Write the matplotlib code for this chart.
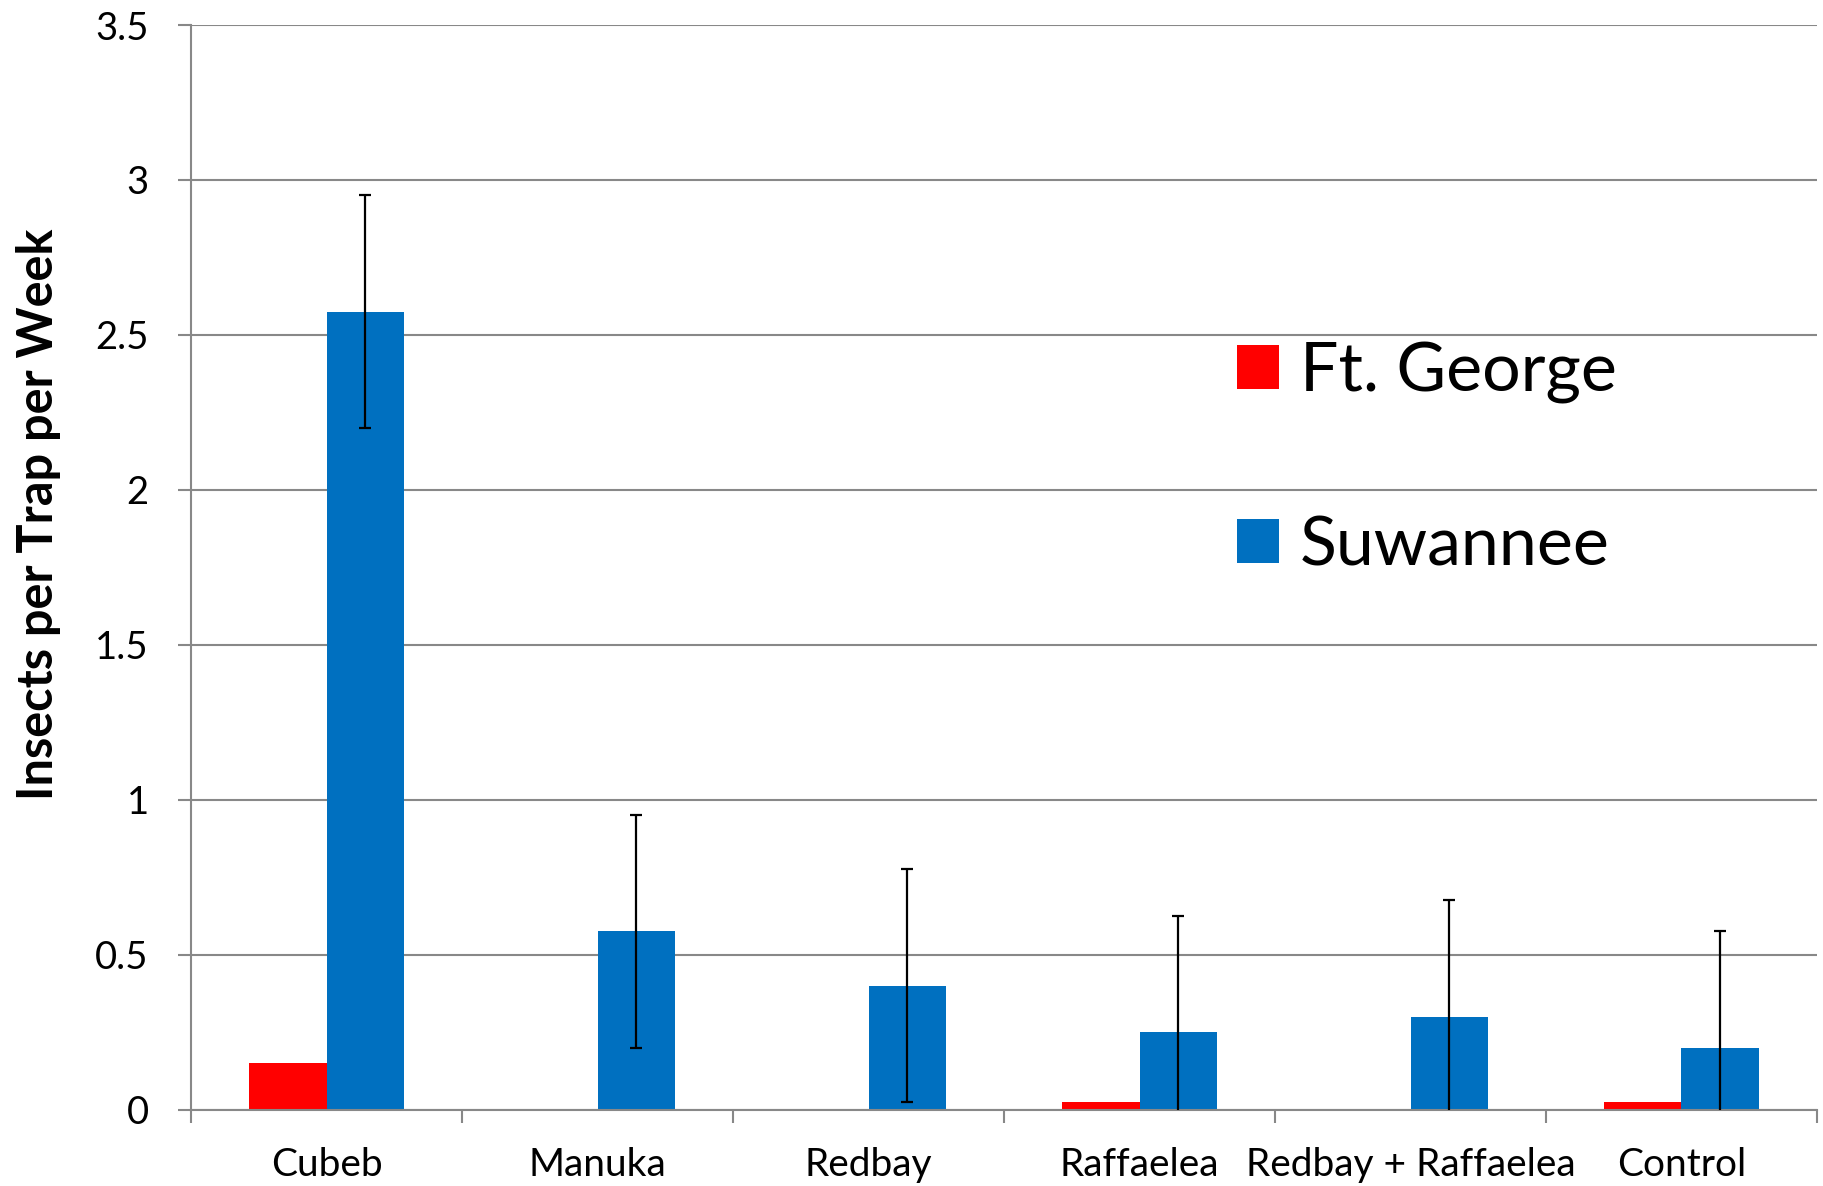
import matplotlib
matplotlib.use("Agg")
import matplotlib.pyplot as plt
import numpy as np

# Mean captures per trap per week, by lure treatment and site
categories = ["Cubeb", "Manuka", "Redbay", "Raffaelea", "Redbay + Raffaelea", "Control"]
ft_george = [0.15, 0.0, 0.0, 0.025, 0.0, 0.025]
suwannee = [2.575, 0.575, 0.40, 0.25, 0.30, 0.20]
suwannee_err = [0.375, 0.375, 0.375, 0.375, 0.375, 0.375]
y_ticks = [0, 0.5, 1, 1.5, 2, 2.5, 3, 3.5]
y_tick_labels = ["0", "0.5", "1", "1.5", "2", "2.5", "3", "3.5"]

RED = "#FF0000"
BLUE = "#0070C0"
GRID = "#888888"

plt.rcParams["font.family"] = ["Lato", "DejaVu Sans"]

fig = plt.figure(figsize=(18.23, 11.86), dpi=100)
ax = fig.add_axes([0.1048, 0.0645, 0.9967 - 0.1048, 0.9789 - 0.0645])

x = np.arange(len(categories))
w = 0.285
ax.bar(x - w / 2, ft_george, width=w, color=RED, label="Ft. George", zorder=2)
ax.bar(x + w / 2, suwannee, width=w, color=BLUE, label="Suwannee", zorder=2)
ax.errorbar(x + w / 2, suwannee, yerr=suwannee_err, fmt="none", ecolor="black",
            elinewidth=1.6, capsize=4.5, capthick=1.6, zorder=3)

ax.set_xlim(-0.5, len(categories) - 0.5)
ax.set_ylim(0, 3.5)

ax.set_yticks(y_ticks)
ax.set_yticklabels(y_tick_labels)
ax.yaxis.grid(True, color=GRID, linewidth=1.5, zorder=0)
ax.set_axisbelow(True)

ax.set_xticks(x)
ax.set_xticklabels(categories)
ax.set_xticks(np.arange(-0.5, len(categories)), minor=True)
ax.tick_params(axis="x", which="major", length=0, pad=27, labelsize=28)
ax.tick_params(axis="x", which="minor", length=9.5, width=1.5, color=GRID, direction="out")
ax.tick_params(axis="y", which="major", length=9.5, width=1.5, color=GRID,
               direction="out", pad=21, labelsize=27.5)

for side in ("top", "right"):
    ax.spines[side].set_visible(False)
for side in ("left", "bottom"):
    ax.spines[side].set_color(GRID)
    ax.spines[side].set_linewidth(1.5)

ax.set_ylabel("Insects per Trap per Week", fontsize=35, fontweight="bold")
ax.yaxis.set_label_coords(-0.080, 0.549)

leg = ax.legend(loc="upper left", bbox_to_anchor=(1237 / 1823, 1 - 341 / 1186),
                bbox_transform=fig.transFigure, frameon=False, fontsize=49,
                handlelength=0.62, handleheight=0.62, handletextpad=0.3,
                labelspacing=1.64, borderpad=0, borderaxespad=0)

fig.savefig("out.png", dpi=100)
